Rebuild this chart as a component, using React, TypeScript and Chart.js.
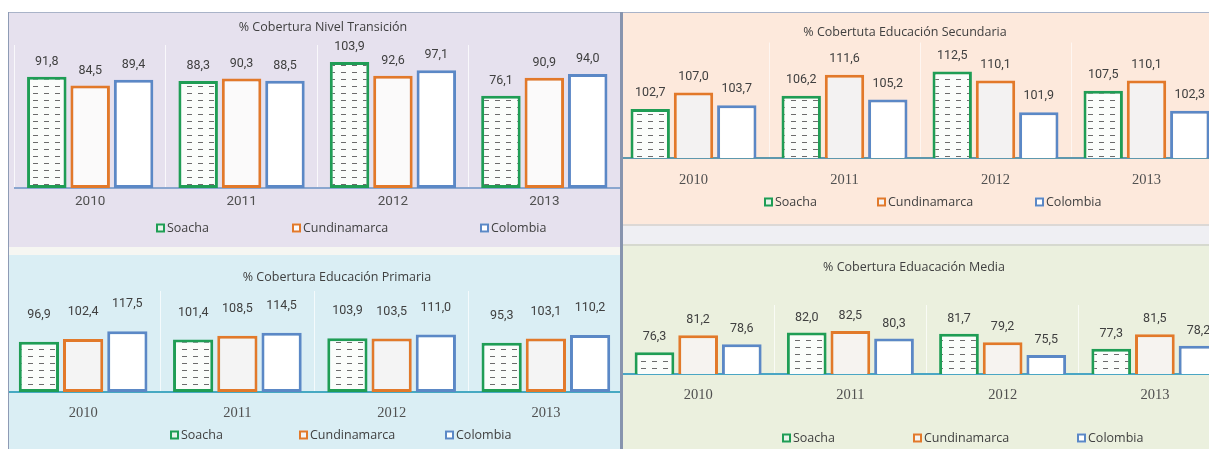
import React, { useEffect, useRef } from "react";
import { Chart, registerables } from "chart.js";

Chart.register(...registerables);

// ---------- data ----------
const years = ["2010", "2011", "2012", "2013"];
const seriesNames = ["Soacha", "Cundinamarca", "Colombia"];

const transicionSoacha = [91.8, 88.3, 103.9, 76.1];
const transicionCundinamarca = [84.5, 90.3, 92.6, 90.9];
const transicionColombia = [89.4, 88.5, 97.1, 94.0];

const secundariaSoacha = [102.7, 106.2, 112.5, 107.5];
const secundariaCundinamarca = [107.0, 111.6, 110.1, 110.1];
const secundariaColombia = [103.7, 105.2, 101.9, 102.3];

const primariaSoacha = [96.9, 101.4, 103.9, 95.3];
const primariaCundinamarca = [102.4, 108.5, 103.5, 103.1];
const primariaColombia = [117.5, 114.5, 111.0, 110.2];

const mediaSoacha = [76.3, 82.0, 81.7, 77.3];
const mediaCundinamarca = [81.2, 82.5, 79.2, 81.5];
const mediaColombia = [78.6, 80.3, 75.5, 78.2];

// ---------- styles ----------
const SANS = '"Open Sans", "DejaVu Sans", sans-serif';
const NARROW = '"Liberation Sans Narrow", "Arial Narrow", Roboto, sans-serif';
const SERIF = '"Liberation Serif", "DejaVu Serif", serif';
const TEXT = "#404040";
const BORDERS = ["#1f9d55", "#e2792a", "#5b88c6"];

function fmt(v: number) {
  return v.toFixed(1).replace(".", ",");
}

function makePattern(): CanvasPattern | string {
  const c = document.createElement("canvas");
  c.width = 11;
  c.height = 7;
  const g = c.getContext("2d");
  if (!g) return "#ffffff";
  g.fillStyle = "#fbfdfb";
  g.fillRect(0, 0, 11, 7);
  g.fillStyle = "#6c6c6c";
  g.fillRect(2, 3, 5, 1);
  return g.createPattern(c, "repeat") || "#ffffff";
}

type PanelCfg = {
  title: string;
  values: number[][];
  bg: string;
  left: number;
  top: number;
  width: number;
  height: number;
  cx: number;
  cw: number;
  padLeft: number;
  padRight: number;
  caTop: number;
  caBottom: number;
  yMin: number;
  yMax: number;
  yearGap: number;
  yearFont: string;
  yearSize: number;
  titleX: number;
  titleY: number;
  legendY: number;
  legendX: number[];
  labelOffset: number;
  baseColor: string;
  gridColor: string;
  cundFill: string;
};

const panels: PanelCfg[] = [
  {
    title: "% Cobertura Nivel Transición",
    values: [transicionSoacha, transicionCundinamarca, transicionColombia],
    bg: "#e6e1ee",
    left: 9, top: 13, width: 611, height: 234,
    cx: 0, cw: 611, padLeft: 5.5, padRight: 0,
    caTop: 32, caBottom: 175, yMin: 0, yMax: 118,
    yearGap: 14, yearFont: NARROW, yearSize: 13.5,
    titleX: 314, titleY: 14, legendY: 215, legendX: [147, 283, 471],
    labelOffset: 15, baseColor: "#8aa6cf", gridColor: "rgba(255,255,255,0.75)",
    cundFill: "#fbfafa",
  },
  {
    title: "% Cobertuta Educación Secundaria",
    values: [secundariaSoacha, secundariaCundinamarca, secundariaColombia],
    bg: "#fde9dc",
    left: 623, top: 13, width: 586, height: 211,
    cx: -10, cw: 612, padLeft: 5, padRight: 3,
    caTop: 29.5, caBottom: 145, yMin: 90, yMax: 120,
    yearGap: 22, yearFont: SERIF, yearSize: 14.5,
    titleX: 292, titleY: 19, legendY: 189, legendX: [151, 264, 422],
    labelOffset: 16, baseColor: "#5e98ad", gridColor: "rgba(255,255,255,0.6)",
    cundFill: "#f3f2f2",
  },
  {
    title: "% Cobertura Educación Primaria",
    values: [primariaSoacha, primariaCundinamarca, primariaColombia],
    bg: "#daeef4",
    left: 9, top: 255, width: 611, height: 194,
    cx: -5, cw: 620, padLeft: 2, padRight: 1,
    caTop: 36, caBottom: 137, yMin: 0, yMax: 195,
    yearGap: 21, yearFont: SERIF, yearSize: 14.5,
    titleX: 333, titleY: 22, legendY: 180, legendX: [166, 295, 441],
    labelOffset: 27, baseColor: "#46a9c2", gridColor: "rgba(255,255,255,0.7)",
    cundFill: "#f4f4f4",
  },
  {
    title: "% Cobertura Eduacación Media",
    values: [mediaSoacha, mediaCundinamarca, mediaColombia],
    bg: "#ebf0de",
    left: 623, top: 246, width: 586, height: 203,
    cx: -6, cw: 617, padLeft: 5, padRight: 3,
    caTop: 59, caBottom: 128, yMin: 70, yMax: 90,
    yearGap: 21, yearFont: SERIF, yearSize: 14.5,
    titleX: 297, titleY: 21, legendY: 192, legendX: [165, 296, 460],
    labelOffset: 15, baseColor: "#4aa6c4", gridColor: "rgba(255,255,255,0.7)",
    cundFill: "#f6f3f0",
  },
];

const decorPlugin = {
  id: "decor",
  afterDatasetsDraw(chart: any, _args: any, opts: any) {
    const ctx: CanvasRenderingContext2D = chart.ctx;
    ctx.save();
    // value labels
    ctx.font = `12.5px ${NARROW}`;
    ctx.fillStyle = TEXT;
    ctx.textAlign = "center";
    ctx.textBaseline = "middle";
    chart.data.datasets.forEach((ds: any, i: number) => {
      const meta = chart.getDatasetMeta(i);
      meta.data.forEach((el: any, j: number) => {
        ctx.fillText(fmt(ds.data[j] as number), el.x, el.y - opts.labelOffset);
      });
    });
    // title
    ctx.font = `12.5px ${SANS}`;
    ctx.fillText(opts.title, opts.titleX, opts.titleY);
    // legend
    ctx.textAlign = "left";
    ctx.font = `12.5px ${SANS}`;
    chart.data.datasets.forEach((ds: any, i: number) => {
      const x = opts.legendX[i];
      const y = opts.legendY;
      ctx.fillStyle = i === 0 ? "#e8f3ea" : ds.backgroundColor;
      ctx.fillRect(x, y - 4.5, 9, 9);
      ctx.strokeStyle = ds.borderColor;
      ctx.lineWidth = 2;
      ctx.strokeRect(x + 1, y - 3.5, 7, 7);
      ctx.fillStyle = TEXT;
      ctx.fillText(ds.label, x + 11, y + 0.5);
    });
    ctx.restore();
  },
};

function BarPanel({ cfg }: { cfg: PanelCfg }) {
  const ref = useRef<HTMLCanvasElement>(null);
  useEffect(() => {
    const canvas = ref.current;
    if (!canvas) return;
    const pattern = makePattern();
    const tickPad = cfg.yearGap - 0.6 * cfg.yearSize;
    const axisH = 1.2 * cfg.yearSize + 2 * tickPad;
    const padBottom = cfg.height - cfg.caBottom - axisH;
    const fills = [pattern, cfg.cundFill, "#ffffff"];
    const chart = new Chart(canvas, {
      type: "bar",
      data: {
        labels: years,
        datasets: seriesNames.map((name, i) => ({
          label: name,
          data: cfg.values[i],
          backgroundColor: fills[i] as any,
          borderColor: BORDERS[i],
          borderWidth: 3,
          borderSkipped: false,
          categoryPercentage: 0.86,
          barPercentage: 0.91,
        })),
      },
      options: {
        responsive: false,
        maintainAspectRatio: false,
        animation: false,
        events: [],
        layout: {
          padding: { left: cfg.padLeft, right: cfg.padRight, top: cfg.caTop, bottom: padBottom },
        },
        plugins: {
          legend: { display: false },
          title: { display: false },
          tooltip: { enabled: false },
          decor: {
            title: cfg.title,
            titleX: cfg.titleX,
            titleY: cfg.titleY,
            legendX: cfg.legendX,
            legendY: cfg.legendY,
            labelOffset: cfg.labelOffset,
          },
        } as any,
        scales: {
          x: {
            offset: true,
            grid: { display: true, offset: true, color: cfg.gridColor, lineWidth: 1, drawTicks: false },
            border: { display: true, color: cfg.baseColor, width: 2 },
            ticks: {
              padding: tickPad,
              color: "#505050",
              font: { family: cfg.yearFont, size: cfg.yearSize },
              maxRotation: 0,
              autoSkip: false,
            },
          },
          y: { display: false, min: cfg.yMin, max: cfg.yMax },
        },
      },
      plugins: [decorPlugin],
    });
    return () => chart.destroy();
  }, [cfg]);
  return (
    <div
      style={{
        position: "absolute",
        left: cfg.left,
        top: cfg.top,
        width: cfg.width,
        height: cfg.height,
        background: cfg.bg,
        overflow: "hidden",
      }}
    >
      <canvas
        ref={ref}
        width={cfg.cw}
        height={cfg.height}
        style={{ position: "absolute", left: cfg.cx, top: 0, width: cfg.cw, height: cfg.height }}
      />
    </div>
  );
}

export default function App() {
  return (
    <div
      style={{
        position: "absolute",
        left: 0,
        top: 0,
        width: 1209,
        height: 449,
        background: "#ffffff",
        overflow: "hidden",
      }}
    >
      <div style={{ position: "absolute", left: 8, top: 11.5, width: 1201, height: 1.5, background: "#a9b3c8" }} />
      <div style={{ position: "absolute", left: 9, top: 247, width: 611, height: 8, background: "#f6f6f2" }} />
      <div
        style={{
          position: "absolute",
          left: 623,
          top: 224,
          width: 586,
          height: 22,
          background: "#efeff3",
          borderTop: "2px solid #dcd8d5",
          borderBottom: "2px solid #d6d9cf",
          boxSizing: "border-box",
        }}
      />
      {panels.map((p, i) => (
        <BarPanel key={i} cfg={p} />
      ))}
      <div style={{ position: "absolute", left: 8, top: 12, width: 1.2, height: 437, background: "#8e9bb5" }} />
      <div style={{ position: "absolute", left: 620, top: 12, width: 3, height: 437, background: "#8794ae" }} />
    </div>
  );
}
